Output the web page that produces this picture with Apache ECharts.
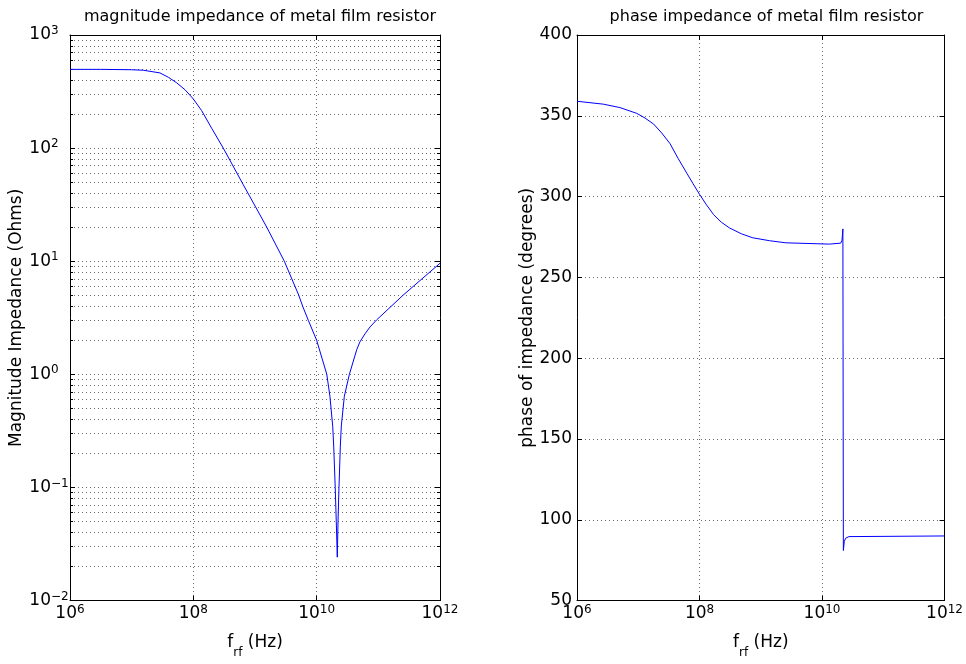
<!DOCTYPE html>
<html><head><meta charset="utf-8">
<script src="https://cdn.jsdelivr.net/npm/echarts@6/dist/echarts.min.js"></script>
<style>html,body{margin:0;padding:0;background:#fff}#c{width:966px;height:664px}</style>
</head><body><div id="c"></div>
<script>
// ---- data ----
const magFreq = [1e6, 3.16e6, 1e7, 1.55e7, 2.88e7, 3.93e7, 5.37e7, 7.33e7, 1e8, 1.36e8, 1.98e8, 3.06e8, 6.46e8, 1.03e9, 1.55e9, 2.99e9, 5.13e9, 5.93e9, 7.33e9, 1e10, 1.46e10, 1.64e10, 1.82e10, 1.89e10, 2.0e10, 2.08e10, 2.16e10, 2.22e10, 2.30e10, 2.42e10, 2.51e10, 2.81e10, 3.39e10, 4.46e10, 5.01e10, 6.07e10, 7.31e10, 9.33e10, 2.51e11, 1e12];
const magValue = [497, 497, 493, 488, 462, 423, 378, 328, 272, 215, 150, 100, 47.4, 30, 20, 10, 5, 4, 3, 2, 1, 0.64, 0.348, 0.232, 0.1, 0.05, 0.0242, 0.05, 0.1, 0.232, 0.35, 0.64, 1.0, 1.65, 1.93, 2.28, 2.62, 3.02, 5.0, 9.6];
const phaseFreq = [1e6, 2.69e6, 5.01e6, 9.46e6, 1.29e7, 1.78e7, 2.41e7, 3.31e7, 4.49e7, 6.24e7, 7.78e7, 1e8, 1.30e8, 1.70e8, 2.28e8, 3.09e8, 4.82e8, 7.41e8, 1.39e9, 2.57e9, 1.32e10, 2.02e10, 2.12e10, 2.19e10, 2.23e10, 2.31e10, 2.43e10, 2.75e10, 1e12];
const phaseValue = [359.0, 357.2, 355.1, 351.5, 348.6, 344.9, 339.4, 332.7, 323.5, 314.3, 308.2, 301.4, 294.9, 288.8, 284.1, 280.6, 277.0, 274.5, 272.7, 271.4, 270.6, 271.2, 273, 280, 81, 86.7, 88.6, 89.6, 90];

const freqTicks = [1e6, 1e8, 1e10, 1e12];
const freqRange = [1e6, 1e12];
const magRange = [1e-2, 1e3];
const phaseRange = [50, 400];
const phaseStep = 50;

const titles = ['magnitude impedance of metal film resistor', 'phase impedance of metal film resistor'];
const yNames = ['Magnitude Impedance (Ohms)', 'phase of impedance (degrees)'];

// ---- styling ----
const FF = '"DejaVu Sans", "Liberation Sans", Arial, sans-serif';
const BLACK = '#000';
const GRIDC = '#6a6a6a';
const DOT = [1, 3];

function expOf(v) { return Math.round(Math.log10(v)); }
function supText(e) { return String(e).replace('-', '\u2212'); }

const xLabel = {
  margin: 3,
  customValues: freqTicks,
  formatter: v => '{b|10}{s|' + supText(expOf(v)) + '}',
  rich: {
    b: { fontSize: 17, lineHeight: 20, fontFamily: FF, color: BLACK },
    s: { fontSize: 12, lineHeight: 12, verticalAlign: 'top', fontFamily: FF, color: BLACK }
  }
};
const yLogLabel = {
  margin: 3,
  formatter: v => '{b|10}{s|' + supText(expOf(v)) + '}',
  rich: {
    b: { fontSize: 17, lineHeight: 20, align: 'left', fontFamily: FF, color: BLACK },
    s: { fontSize: 12, lineHeight: 12, verticalAlign: 'top', width: 16, align: 'left', fontFamily: FF, color: BLACK }
  }
};
const xName = {
  name: '{n|f}{sub|rf}{n| (Hz)}',
  nameLocation: 'middle',
  nameGap: 24,
  nameTextStyle: {
    rich: {
      n: { fontSize: 17, lineHeight: 20, fontFamily: FF, color: BLACK },
      sub: { fontSize: 12, lineHeight: 12, padding: [20, 0, 0, 0], fontFamily: FF, color: BLACK }
    }
  }
};

function xAxisPair(gi) {
  const base = {
    type: 'log', logBase: 10, gridIndex: gi, min: freqRange[0], max: freqRange[1],
    axisLine: { onZero: false, lineStyle: { color: BLACK, width: 1 } },
    axisTick: { inside: true, length: 5, customValues: freqTicks, lineStyle: { color: BLACK } }
  };
  return [
    Object.assign({}, base, {
      position: 'bottom', axisLabel: xLabel,
      splitLine: { show: true, lineStyle: { type: DOT, color: GRIDC, width: 1 } }
    }, xName),
    Object.assign({}, base, { position: 'top', axisLabel: { show: false }, splitLine: { show: false } })
  ];
}

const option = {
  animation: false,
  backgroundColor: '#fff',
  textStyle: { fontFamily: FF },
  title: [
    { text: titles[0], left: 255, top: 4, textAlign: 'center', textStyle: { fontSize: 16, fontWeight: 'normal', color: BLACK, fontFamily: FF } },
    { text: titles[1], left: 761.5, top: 4, textAlign: 'center', textStyle: { fontSize: 16, fontWeight: 'normal', color: BLACK, fontFamily: FF } }
  ],
  grid: [
    { left: 70, top: 35, width: 370, height: 572, containLabel: false },
    { left: 577, top: 35, width: 369, height: 571, containLabel: false }
  ],
  xAxis: [].concat(xAxisPair(0), xAxisPair(1)),
  yAxis: [
    {
      type: 'log', logBase: 10, gridIndex: 0, min: magRange[0], max: magRange[1], splitNumber: 5, position: 'left',
      axisLine: { onZero: false, lineStyle: { color: BLACK, width: 1 } },
      axisTick: { inside: true, length: 5, lineStyle: { color: BLACK } },
      minorTick: { show: true, splitNumber: 9, length: 3, lineStyle: { color: BLACK } },
      axisLabel: yLogLabel,
      splitLine: { show: true, lineStyle: { type: DOT, color: GRIDC, width: 1 } },
      minorSplitLine: { show: true, lineStyle: { type: DOT, color: GRIDC, width: 1 } },
      name: yNames[0], nameLocation: 'middle', nameGap: 38,
      nameTextStyle: { fontSize: 17, fontFamily: FF, color: BLACK }
    },
    {
      type: 'log', logBase: 10, gridIndex: 0, min: magRange[0], max: magRange[1], splitNumber: 5, position: 'right',
      axisLine: { onZero: false, lineStyle: { color: BLACK, width: 1 } },
      axisTick: { inside: true, length: 5, lineStyle: { color: BLACK } },
      minorTick: { show: true, splitNumber: 9, length: 3, lineStyle: { color: BLACK } },
      axisLabel: { show: false }, splitLine: { show: false }
    },
    {
      type: 'value', gridIndex: 1, min: phaseRange[0], max: phaseRange[1], interval: phaseStep, position: 'left',
      axisLine: { onZero: false, lineStyle: { color: BLACK, width: 1 } },
      axisTick: { inside: true, length: 5, lineStyle: { color: BLACK } },
      axisLabel: { margin: 5, fontSize: 17, fontFamily: FF, color: BLACK },
      splitLine: { show: true, lineStyle: { type: DOT, color: GRIDC, width: 1 } },
      name: yNames[1], nameLocation: 'middle', nameGap: 35,
      nameTextStyle: { fontSize: 17, fontFamily: FF, color: BLACK }
    },
    {
      type: 'value', gridIndex: 1, min: phaseRange[0], max: phaseRange[1], interval: phaseStep, position: 'right',
      axisLine: { onZero: false, lineStyle: { color: BLACK, width: 1 } },
      axisTick: { inside: true, length: 5, lineStyle: { color: BLACK } },
      axisLabel: { show: false }, splitLine: { show: false }
    }
  ],
  series: [
    {
      type: 'line', xAxisIndex: 0, yAxisIndex: 0, showSymbol: false, symbol: 'none',
      lineStyle: { color: '#0000ff', width: 1 }, itemStyle: { color: '#0000ff' },
      data: magFreq.map((f, i) => [f, magValue[i]])
    },
    {
      type: 'line', xAxisIndex: 2, yAxisIndex: 2, showSymbol: false, symbol: 'none',
      lineStyle: { color: '#0000ff', width: 1 }, itemStyle: { color: '#0000ff' },
      data: phaseFreq.map((f, i) => [f, phaseValue[i]])
    }
  ]
};

const chart = echarts.init(document.getElementById('c'), null, { renderer: 'canvas' });
chart.setOption(option);
</script>
</body></html>
